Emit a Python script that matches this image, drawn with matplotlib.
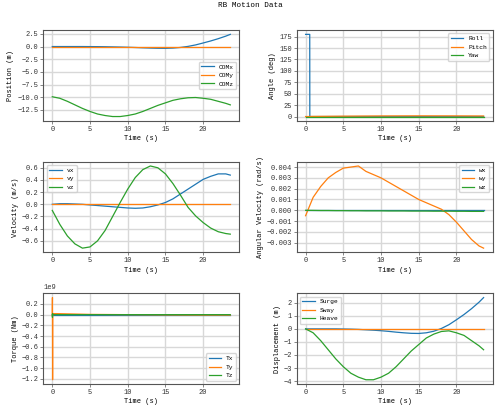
import matplotlib
matplotlib.use("Agg")
import matplotlib.pyplot as plt
from matplotlib.ticker import MultipleLocator
import numpy as np

plt.rcParams['font.family'] = ['Liberation Mono', 'DejaVu Sans']
plt.rcParams['font.size'] = 5

t = [0, 1, 2, 3, 4, 5, 6, 7, 8, 9, 10, 11, 12, 13, 14, 15, 16, 17, 18, 19, 20, 21, 22, 23, 23.6]
com_x = [0, 0, 0, 0, 0, -0.01, -0.02, -0.04, -0.07, -0.1, -0.14, -0.19, -0.25, -0.3, -0.34, -0.35, -0.3, -0.18, 0.03, 0.32, 0.7, 1.1, 1.55, 2.05, 2.4]
com_y = [0]*25
com_z = [-9.9, -10.2, -10.8, -11.5, -12.2, -12.8, -13.3, -13.6, -13.8, -13.8, -13.6, -13.3, -12.8, -12.2, -11.6, -11.1, -10.6, -10.3, -10.1, -10.05, -10.2, -10.4, -10.8, -11.2, -11.5]
surge = [v - com_x[0] for v in com_x]
sway = com_y
heave = [v - com_z[0] for v in com_z]

vx = [0, 0.01, 0.01, 0.005, 0, -0.01, -0.02, -0.03, -0.04, -0.05, -0.06, -0.065, -0.06, -0.04, -0.01, 0.03, 0.09, 0.17, 0.25, 0.33, 0.41, 0.46, 0.5, 0.5, 0.48]
vy = [0]*25
vz = [-0.1, -0.33, -0.52, -0.65, -0.72, -0.7, -0.6, -0.43, -0.2, 0.03, 0.25, 0.44, 0.57, 0.63, 0.6, 0.5, 0.34, 0.15, -0.05, -0.19, -0.3, -0.39, -0.45, -0.48, -0.49]

wx = [0]*25
wy = [-0.0005, 0.0012, 0.0022, 0.003, 0.0035, 0.0039, 0.004, 0.0041, 0.0036, 0.0033, 0.003, 0.0026, 0.0022, 0.0018, 0.0014, 0.001, 0.0007, 0.0004, 0.0001, -0.0004, -0.0011, -0.0019, -0.0027, -0.0033, -0.0035]
wz = [0, -0.00001, -0.00002, -0.00002, -0.00003, -0.00003, -0.00004, -0.00004, -0.00005, -0.00005, -0.00005, -0.00006, -0.00006, -0.00006, -0.00007, -0.00007, -0.00007, -0.00008, -0.00008, -0.00008, -0.00009, -0.00009, -0.0001, -0.0001, -0.0001]

t_ang = [0, 0.55, 0.56, 5, 10, 15, 20, 23.6]
roll = [180, 180, 0, 0, 0, 0, 0, 0]
pitch = [0, 0, 0.2, 0.8, 1.3, 1.5, 1.4, 1.2]
yaw = [0]*8

t_tq = [0, 0.02, 0.04, 0.06, 0.1, 0.5, 5, 10, 15, 20, 23.6]
tx = [0, 0, 0, 0, 0, 0, 0, 0, 0, 0, 0]
ty = [0, 0.32e9, -1.22e9, 0.02e9, 0.02e9, 0.02e9, 0.005e9, 0, -0.005e9, -0.008e9, -0.008e9]
tz = [0, -0.05e9, 0.02e9, 0, 0, 0, 0, 0, 0, 0, 0]

fig, axs = plt.subplots(3, 2, figsize=(5, 4.13), dpi=100)
fig.suptitle("RB Motion Data", fontsize=5.5, y=0.995)

def style(ax, ylabel, loc, ystep):
    ax.grid(True, color='#d8d8d8', linewidth=1.0)
    ax.set_xlabel("Time (s)", labelpad=2)
    ax.set_ylabel(ylabel, labelpad=2)
    for s in ax.spines.values():
        s.set_color('#555555')
    ax.tick_params(length=2, width=0.5, color='#555555', labelcolor='#333333', pad=1.5)
    ax.legend(loc=loc, fontsize=4.5)
    ax.set_xticks([0, 5, 10, 15, 20])
    ax.yaxis.set_major_locator(MultipleLocator(ystep))

ax = axs[0, 0]
ax.plot(t, com_x, label='COMx', lw=0.9)
ax.plot(t, com_y, label='COMy', lw=0.9)
ax.plot(t, com_z, label='COMz', lw=0.9)
style(ax, 'Position (m)', 'center right', 2.5)

ax = axs[0, 1]
ax.plot(t_ang, roll, label='Roll', lw=0.9)
ax.plot(t_ang, pitch, label='Pitch', lw=0.9)
ax.plot(t_ang, yaw, label='Yaw', lw=0.9)
style(ax, 'Angle (deg)', 'upper right', 25)

ax = axs[1, 0]
ax.plot(t, vx, label='vx', lw=0.9)
ax.plot(t, vy, label='vy', lw=0.9)
ax.plot(t, vz, label='vz', lw=0.9)
style(ax, 'Velocity (m/s)', 'upper left', 0.2)

ax = axs[1, 1]
ax.plot(t, wx, label='wx', lw=0.9)
ax.plot(t, wy, label='wy', lw=0.9)
ax.plot(t, wz, label='wz', lw=0.9)
style(ax, 'Angular Velocity (rad/s)', 'upper right', 0.001)

ax = axs[2, 0]
ax.plot(t_tq, tx, label='Tx', lw=0.9)
ax.plot(t_tq, ty, label='Ty', lw=0.9)
ax.plot(t_tq, tz, label='Tz', lw=0.9)
style(ax, 'Torque (Nm)', 'lower right', 0.2e9)

ax = axs[2, 1]
ax.plot(t, surge, label='Surge', lw=0.9)
ax.plot(t, sway, label='Sway', lw=0.9)
ax.plot(t, heave, label='Heave', lw=0.9)
style(ax, 'Displacement (m)', 'upper left', 1)

fig.tight_layout(rect=[0, 0, 1, 0.98], h_pad=1.5, w_pad=2.5)
fig.savefig("out.png", dpi=100)
